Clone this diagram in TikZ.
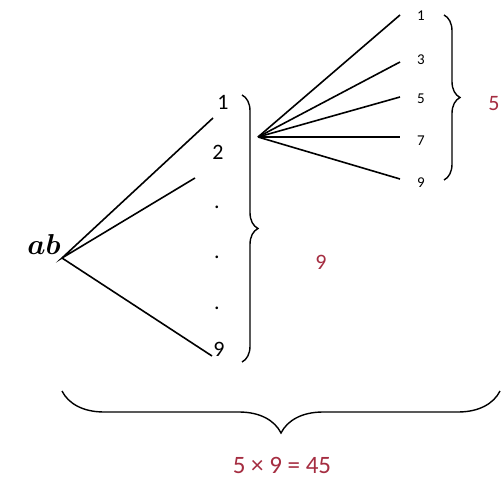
\documentclass[tikz,border=0pt]{standalone}
\usepackage{bm}
\usepackage{fontspec}
\setmainfont{Carlito}
\usetikzlibrary{decorations.pathreplacing}
\definecolor{numred}{RGB}{165,45,65}
\begin{document}
\begin{tikzpicture}[x=0.5pt,y=-0.5pt,
  branch/.style={line width=0.8pt},
  grp/.style={line width=0.7pt,decorate,decoration={brace,amplitude=#1}},
  big/.style={font=\fontsize{11}{11}\selectfont},
  small/.style={font=\fontsize{7.5}{8}\selectfont},
  count/.style={text=numred,font=\fontsize{11}{11}\selectfont}]
  \useasboundingbox (0,0) rectangle (502,480);
  % first choice: tens digit
  \node[font=\fontsize{15}{15}\selectfont] (ab) at (44,245) {$\bm{ab}$};
  \coordinate (r1) at (62,258);
  \node[big] (a1) at (223,102) {1};
  \node[big] (a2) at (218,152) {2};
  \node[big] (d1) at (217,207) {.};
  \node[big] (d2) at (217,257) {.};
  \node[big] (d3) at (217,308) {.};
  \node[big] (a9) at (219,349) {9};
  \coordinate (e1) at (213,118);
  \coordinate (e2) at (195,178);
  \coordinate (e9) at (212,356);
  \draw[branch] (e1) -- (r1) -- (e2);
  \draw[branch] (r1) -- (e9);
  \draw[grp=8pt] (242,95) -- (242,362);
  \node[count] (n9) at (321,262) {9};
  % second choice: odd units digit
  \coordinate (r2) at (258,137);
  \foreach \d/\y [count=\i] in {1/16,3/60,5/99,7/141,9/183}
    \node[small] (b\i) at (421,\y) {\d};
  \foreach \y [count=\i] in {15,62,97,137,179}
    \draw[branch] (r2) -- (400,\y) coordinate (f\i);
  \draw[grp=8pt] (444,15) -- (444,180);
  \node[count,anchor=east,inner sep=1pt] (n5) at (502,104) {5};
  % product
  \draw[grp=21pt] (500,391) -- (62,391);
  \node[count,font=\fontsize{12.5}{12.5}\selectfont] (prod) at (282,465) {5 × 9 = 45};
\end{tikzpicture}
\end{document}
